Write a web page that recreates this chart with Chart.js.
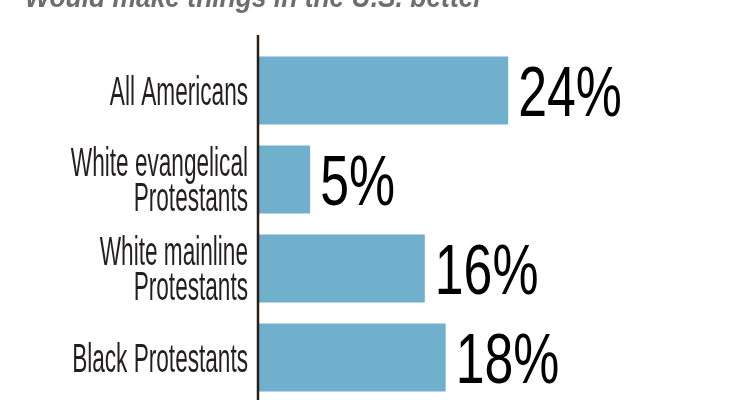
<!DOCTYPE html>
<html>
<head>
<meta charset="utf-8">
<script src="https://cdn.jsdelivr.net/npm/chart.js@4"></script>
<style>
  html, body { margin: 0; padding: 0; background: #fff; overflow: hidden; }
  .chart-container { position: relative; width: 735px; height: 402px; }
</style>
</head>
<body>
<div class="chart-container">
  <canvas id="chart"></canvas>
</div>
<script>
// Daten
const categories = [
  ["All Americans"],
  ["White evangelical", "Protestants"],
  ["White mainline", "Protestants"],
  ["Black Protestants"],
];
const values = [24, 5, 16, 18];
const valueLabels = ["24%", "5%", "16%", "18%"];
const title = "Would make things in the U.S. better";

const barColor = "#70b0cc";
const textColor = "#231f20";

// schmal gezogener Text (Schrift ist im Original condensed)
function condensedText(ctx, text, x, y, font, scaleX, align, color) {
  ctx.save();
  ctx.font = font;
  ctx.fillStyle = color;
  ctx.textAlign = align;
  ctx.textBaseline = "alphabetic";
  ctx.translate(x, y);
  ctx.scale(scaleX, 1);
  ctx.fillText(text, 0, 0);
  ctx.restore();
}

const labelPlugin = {
  id: "labels",
  afterDatasetsDraw(chart) {
    const ctx = chart.ctx;
    const x = chart.scales.x;
    const y = chart.scales.y;
    const area = chart.chartArea;

    // Achsenlinie
    const x0 = x.getPixelForValue(0);
    ctx.save();
    ctx.strokeStyle = "#2b1d17";
    ctx.lineWidth = 2.5;
    ctx.beginPath();
    ctx.moveTo(x0, area.top - 11);
    ctx.lineTo(x0, area.bottom);
    ctx.stroke();
    ctx.restore();

    // Kategorien links
    const labelSize = 40;
    const lineH = 35;
    const cap = labelSize * 0.716;
    categories.forEach((lines, i) => {
      const cy = y.getPixelForValue(i);
      const block = (lines.length - 1) * lineH + cap;
      let by = cy - block / 2 + cap;
      lines.forEach((line) => {
        condensedText(ctx, line, x0 - 10, by, labelSize + "px 'Liberation Sans', Arial, sans-serif", 0.565, "right", textColor);
        by += lineH;
      });
    });

    // Werte rechts der Balken
    const valueSize = 70;
    values.forEach((v, i) => {
      const cy = y.getPixelForValue(i);
      const px = x.getPixelForValue(v);
      condensedText(ctx, valueLabels[i], px + 10, cy + valueSize * 0.358, valueSize + "px 'Liberation Sans', Arial, sans-serif", 0.74, "left", "#000");
    });

    // Titel (oben abgeschnitten)
    condensedText(ctx, title, 25, 7, "italic bold 30px 'Liberation Sans', Arial, sans-serif", 0.88, "left", "#6d6e71");
  },
};

const canvas = document.querySelector("#chart");
const ctx = canvas.getContext("2d");

new Chart(ctx, {
  type: "bar",
  data: {
    labels: categories,
    datasets: [
      {
        data: values,
        backgroundColor: barColor,
        borderWidth: 0,
        categoryPercentage: 1,
        barPercentage: 0.765,
      },
    ],
  },
  options: {
    indexAxis: "y",
    responsive: true,
    maintainAspectRatio: false,
    animation: false,
    layout: { padding: { top: 46, left: 258, right: 60, bottom: 0 } },
    scales: {
      x: { display: false, min: 0, max: 40 },
      y: { display: false },
    },
    plugins: {
      legend: { display: false },
      tooltip: { enabled: false },
    },
  },
  plugins: [labelPlugin],
});
</script>
</body>
</html>
